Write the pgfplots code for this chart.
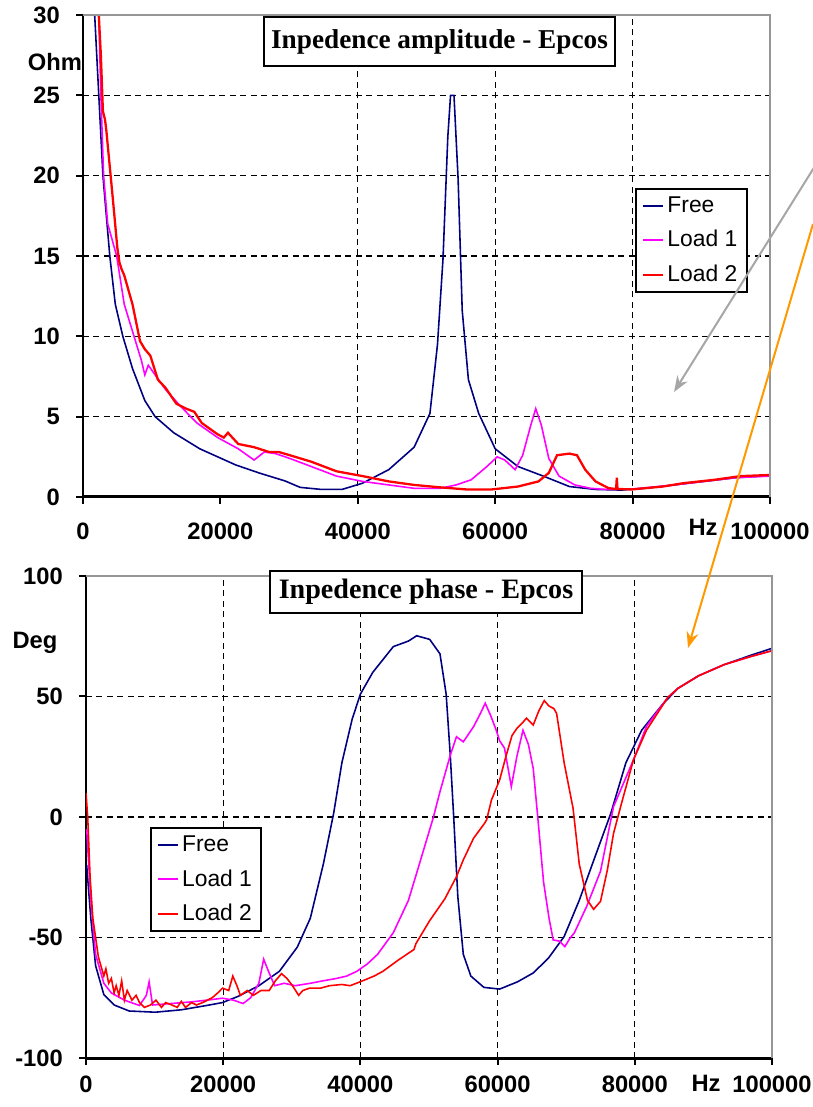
\documentclass[border=0pt]{standalone}
\usepackage{pgfplots}
\pgfplotsset{compat=1.18}
\usepackage{fontspec}
\setmainfont{Liberation Sans}
\newfontfamily\titlefont{Liberation Serif}
\usetikzlibrary{arrows.meta}

\definecolor{cfree}{RGB}{0,0,128}
\definecolor{cload1}{RGB}{255,0,255}
\definecolor{cload2}{RGB}{255,0,0}
\definecolor{cframe}{RGB}{150,150,150}
\definecolor{carrow}{RGB}{255,153,0}

\newcommand{\tickfont}{\bfseries\fontsize{13.5}{16}\selectfont}
\newcommand{\legfont}{\fontsize{13}{15}\selectfont}

\pgfplotsset{
  impstyle/.style={
    scale only axis,
    xmin=0, xmax=100000,
    axis x line*=bottom, axis y line*=left,
    x axis line style={-, line width=0.06cm},
    y axis line style={-, line width=0.04cm},
    tick align=outside,
    major tick length=0.14cm,
    every tick/.style={black, line width=0.04cm},
    xtick={0,20000,40000,60000,80000,100000},
    xticklabels={0,20000,40000,60000,80000,100000},
    scaled x ticks=false,
    xticklabel style={font=\tickfont},
    yticklabel style={font=\tickfont, xshift=-0.2cm},
    major grid style={black, line width=0.025cm, dash pattern=on 0.12cm off 0.09cm},
    legend cell align=left,
    legend style={draw=black, line width=0.04cm, fill=white, font=\legfont,
      inner xsep=0.12cm, inner ysep=0.08cm, row sep=0.17cm},
    legend image code/.code={\draw[##1] (0cm,0cm) -- (0.4cm,0cm);},
  },
}

\begin{document}
\begin{tikzpicture}
\path[use as bounding box] (0,0) rectangle (16.24,22.14);

% ---------- impedance amplitude ----------
\begin{axis}[impstyle,
  name=amp,
  at={(1.66cm,12.20cm)}, anchor=south west,
  width=13.74cm, height=9.64cm,
  ymin=0, ymax=30,
  ytick={0,5,10,15,20,25,30},
  yticklabels={0,5,10,15,20,25,30},
  ymajorgrids=true,
  xticklabel style={yshift=-0.26cm},
  extra x ticks={40000,60000,80000},
  extra x tick labels={},
  extra x tick style={xmajorgrids=true},
  legend style={at={(0.803,0.641)}, anchor=north west},
]
\addplot[cfree, line width=0.9pt] coordinates {
(1700,30) (2300,25) (2900,20) (3900,15) (4700,12) (5800,10) (7200,8) (9000,6)
(10500,5) (13200,4) (17000,3) (19600,2.5) (22200,2) (25600,1.5) (29400,1)
(31600,0.6) (34700,0.47) (37700,0.47) (40700,0.86) (44500,1.7) (48200,3.1)
(50500,5.2) (51600,9.5) (52400,14.8) (53100,22.4) (53500,25) (54000,25)
(54600,19.8) (55200,11.6) (56100,7.3) (57600,5.2) (60000,3.0) (63300,1.9)
(67000,1.3) (70800,0.65) (74600,0.47) (78400,0.43) (82000,0.55) (86000,0.75)
(90000,0.95) (95000,1.2) (100000,1.33)
};
\addlegendentry{Free}
\addplot[cload1, line width=0.9pt] coordinates {
(2300,30) (2600,25) (3000,20) (3600,17) (4900,15) (6000,12) (7500,9.9)
(8500,8.5) (9000,7.6) (9500,8.2) (12000,6.7) (14300,5.6) (16600,4.6)
(19600,3.7) (22600,3.0) (24900,2.3) (26400,2.8) (28000,2.7) (30100,2.4)
(33200,1.9) (36900,1.3) (40700,0.97) (44500,0.75) (48200,0.54) (52000,0.54)
(54300,0.75) (56500,1.07) (58800,1.9) (60300,2.5) (61400,2.3) (62900,1.7)
(64000,2.6) (65200,4.5) (65900,5.5) (66700,4.5) (67800,2.4) (69300,1.3)
(71600,0.75) (73900,0.54) (76100,0.47) (80000,0.5) (85000,0.7) (90000,0.95)
(95000,1.2) (100000,1.3)
};
\addlegendentry{Load 1}
\addplot[cload2, line width=1.3pt] coordinates {
(2300,30) (2600,27.5) (2900,24) (3200,23.5) (3400,22.8) (3800,21) (4400,18.3)
(5000,15.5) (5300,14.6) (5600,14.2) (6000,13.8) (7200,12) (8300,9.7)
(9000,9.2) (9800,8.8) (10900,7.3) (12000,6.8) (13600,5.8) (15000,5.5)
(16200,5.3) (17300,4.6) (19600,3.9) (20500,3.7) (21100,4.0) (22600,3.3)
(24900,3.1) (27100,2.8) (28500,2.8) (30100,2.6) (33200,2.2) (36900,1.6)
(40700,1.3) (44500,0.97) (48200,0.75) (52000,0.6) (55800,0.47) (59500,0.47)
(63300,0.65) (66300,0.97) (67800,1.5) (69000,2.6) (70800,2.7) (71900,2.6)
(73100,1.7) (74600,0.97) (76500,0.55) (77600,0.5) (77700,1.2) (77800,0.5)
(79900,0.47) (84400,0.65) (87400,0.86) (91900,1.07) (95700,1.3) (100000,1.37)
};
\addlegendentry{Load 2}
\end{axis}

% ---------- impedance phase ----------
\begin{axis}[impstyle,
  name=phase,
  at={(1.72cm,0.98cm)}, anchor=south west,
  width=13.72cm, height=9.64cm,
  ymin=-100, ymax=100,
  ytick={-100,-50,0,50,100},
  yticklabels={-100,-50,0,50,100},
  grid=major,
  xticklabel style={yshift=-0.1cm},
  legend style={at={(0.0933,0.479)}, anchor=north west},
]
\addplot[cfree, line width=0.9pt] coordinates {
(100,-20) (700,-42) (1400,-61.7) (2600,-73.7) (4100,-78) (6300,-80.5)
(10100,-81) (13900,-80) (17600,-78.2) (19900,-77) (22200,-74.4) (25200,-70)
(28200,-64) (30800,-54) (32700,-42) (34600,-19.5) (36100,1.5) (37300,22.5)
(38800,40.6) (40000,51) (41800,60) (44800,70.7) (47000,73) (48200,75.2)
(50100,73.7) (51600,67.7) (52500,51) (53100,25.6) (53600,0) (54200,-33)
(55000,-57) (56100,-66) (58000,-70.7) (60300,-71.4) (62900,-68.4)
(65200,-64.7) (67400,-58.6) (69700,-49.6) (71900,-34.6) (74200,-16.5)
(76500,1.5) (78700,22.5) (81000,36) (84000,46.6) (86300,53.4) (89300,58.6)
(93000,63.2) (96800,67) (100000,70)
};
\addlegendentry{Free}
\addplot[cload1, line width=0.9pt] coordinates {
(100,-5) (700,-34.6) (1400,-57) (2600,-69) (3700,-73) (5600,-76) (7800,-78.2)
(8800,-74) (9200,-68.4) (9700,-78) (12400,-77.4) (15400,-76.7) (17600,-76)
(19900,-75.2) (21500,-76) (22900,-77.4) (24000,-75) (25200,-69) (25900,-59)
(26700,-64.7) (27500,-70) (28900,-69) (30500,-70) (32700,-69) (34500,-68)
(36500,-67) (38000,-66) (39500,-64) (41000,-61) (42500,-57) (44800,-48)
(47000,-34.6) (48600,-19.5) (50600,-0.5) (51600,10.5) (53100,25.6)
(54000,33.3) (55000,31.2) (56500,37.5) (57500,43) (58200,47.2) (59000,42)
(59800,36) (60300,31.6) (61000,28.6) (62000,12.6) (62800,25) (63700,36)
(64500,30) (65200,20) (65900,-1.5) (66700,-27) (67500,-42) (68100,-51)
(69000,-51.5) (69800,-53.8) (70500,-50.5) (71200,-48) (73000,-37)
(75000,-22.5) (76900,4.3) (79800,23.7) (81700,37.6) (84800,49.6)
(86300,53.4) (89300,58.6) (93000,63.2) (96800,66.5) (100000,69)
};
\addlegendentry{Load 1}
\addplot[cload2, line width=0.9pt] coordinates {
(0,10) (250,0) (600,-25) (1000,-42) (1400,-50) (1800,-58) (2200,-62)
(2600,-66) (2900,-63) (3300,-69) (3700,-67) (4100,-73) (4400,-70) (4800,-74)
(5200,-68) (5600,-76) (6000,-72) (6700,-76) (7300,-74) (7800,-77) (8500,-79)
(9400,-78) (10200,-76) (11000,-79) (11600,-77) (12500,-78) (13300,-79)
(13900,-76.5) (14500,-79) (15400,-77) (16100,-78) (17000,-77) (18400,-75)
(19200,-73) (19900,-71) (20800,-72) (21400,-66) (22000,-70) (22500,-74)
(23500,-72) (24400,-74) (25500,-72) (26700,-72) (27600,-68) (28500,-65)
(29300,-67) (30100,-70) (31000,-74) (31600,-72) (32600,-71) (34200,-71)
(35500,-70) (37300,-69.5) (38500,-70) (40300,-68) (42000,-66) (43300,-64)
(45500,-59.4) (47800,-55) (48100,-52.5) (50100,-43) (52300,-34) (54000,-24.8)
(55000,-17.8) (56500,-8.8) (58000,-3) (58400,-1.2) (59100,7) (60300,15.4)
(61200,25) (62100,33.8) (62800,36.7) (63600,39) (64200,41) (65200,38.2)
(66000,44) (66800,48.3) (67500,46) (68200,45) (68600,43) (69700,22.5)
(71000,3.6) (71900,-19.5) (73100,-34.6) (74000,-38.3) (75000,-35) (76000,-22)
(76900,-6.8) (78000,5) (79800,23.7) (81700,36) (84800,49.6) (86300,53.4)
(89300,58.6) (93000,63.2) (96800,66.5) (100000,69)
};
\addlegendentry{Load 2}
\end{axis}

% frame lines on top and right
\draw[cframe, line width=0.03cm] (amp.north west) -- (amp.north east) -- (amp.south east);
\draw[cframe, line width=0.03cm] (phase.north west) -- (phase.north east) -- (phase.south east);

% titles
\node[draw, line width=0.03cm, fill=white, minimum width=7.02cm, minimum height=0.98cm,
  inner sep=0pt, font=\titlefont\bfseries\fontsize{15.5}{18}\selectfont]
  at (8.79,21.31) {Inpedence amplitude - Epcos};
\node[draw, line width=0.03cm, fill=white, minimum width=6.24cm, minimum height=0.84cm,
  inner sep=0pt, font=\titlefont\bfseries\fontsize{16}{18}\selectfont]
  at (8.52,10.30) {Inpedence phase - Epcos};

% unit labels
\node[font=\tickfont] at (1.10,20.90) {Ohm};
\node[font=\tickfont] at (14.06,11.60) {Hz};
\node[font=\tickfont] at (0.70,9.28) {Deg};
\node[font=\tickfont] at (14.12,0.48) {Hz};

% annotation arrows
\draw[gray!70, line width=0.04cm, -{Stealth[length=0.32cm,width=0.24cm]}]
  (16.30,18.82) -- (13.48,14.30);
\draw[carrow, line width=0.04cm, -{Stealth[length=0.32cm,width=0.24cm]}]
  (16.26,17.66) -- (13.76,9.18);
\end{tikzpicture}
\end{document}
